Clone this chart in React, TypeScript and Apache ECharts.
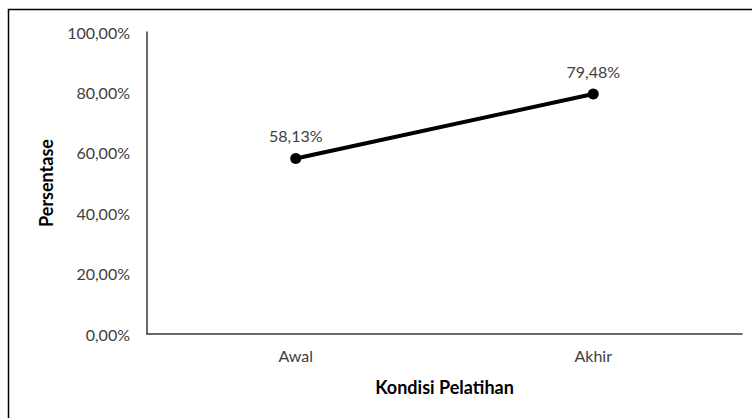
import React, { useEffect, useRef } from "react";
import * as echarts from "echarts";

const categories = ["Awal", "Akhir"];
const values = [0.5813, 0.7948];
const yTicks = [0, 0.2, 0.4, 0.6, 0.8, 1.0];

const fmt = (v: number) => (v * 100).toFixed(2).replace(".", ",") + "%";

export default function App() {
  const ref = useRef<HTMLDivElement>(null);
  useEffect(() => {
    document.body.style.margin = "0";
    const chart = echarts.init(ref.current!, null, { renderer: "svg" });
    chart.setOption({
      animation: false,
      backgroundColor: "#ffffff",
      textStyle: { fontFamily: "Lato" },
      graphic: [
        {
          type: "rect",
          shape: { x: 8.5, y: 9.5, width: 800, height: 500 },
          style: { fill: "none", stroke: "#000000", lineWidth: 1.5 },
          silent: true,
        },
      ],
      grid: { left: 147, right: 10, top: 32, bottom: 84 },
      xAxis: {
        type: "category",
        data: categories,
        boundaryGap: true,
        axisLine: { lineStyle: { color: "#3a3a3a", width: 1.5 } },
        axisTick: { show: false },
        axisLabel: { color: "#404040", fontSize: 16, margin: 13, fontFamily: "Lato" },
        name: "Kondisi Pelatihan",
        nameLocation: "middle",
        nameGap: 44,
        nameTextStyle: { color: "#000000", fontSize: 18, fontWeight: "bold", fontFamily: "Lato" },
      },
      yAxis: {
        type: "value",
        min: 0,
        max: 1,
        interval: 0.2,
        axisLine: { show: true, lineStyle: { color: "#3a3a3a", width: 1.5 } },
        axisTick: { show: false },
        splitLine: { show: false },
        axisLabel: {
          color: "#404040",
          fontSize: 16,
          margin: 17,
          fontFamily: "Lato",
          formatter: (v: number) => (yTicks.some((t) => Math.abs(t - v) < 1e-9) ? fmt(v) : ""),
        },
        name: "Persentase",
        nameLocation: "middle",
        nameGap: 92,
        nameTextStyle: { color: "#000000", fontSize: 18, fontWeight: "bold", fontFamily: "Lato" },
      },
      series: [
        {
          type: "line",
          data: values,
          symbol: "circle",
          symbolSize: 11,
          itemStyle: { color: "#000000" },
          lineStyle: { color: "#000000", width: 4 },
          label: {
            show: true,
            position: "top",
            distance: 9,
            color: "#404040",
            fontSize: 16,
            fontFamily: "Lato",
            formatter: (p: any) => fmt(p.value),
          },
        },
      ],
    });
    return () => chart.dispose();
  }, []);
  return <div ref={ref} style={{ position: "fixed", left: 0, top: 0, width: 752, height: 418 }} />;
}
